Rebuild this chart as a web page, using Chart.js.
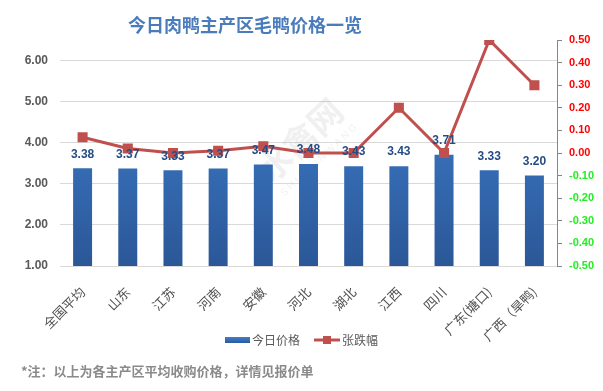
<!DOCTYPE html>
<html>
<head>
<meta charset="utf-8">
<script src="https://cdn.jsdelivr.net/npm/chart.js@4"></script>
<style>
  html, body { margin: 0; padding: 0; background: #fff; }
  #wrap { width: 603px; height: 391px; }
</style>
</head>
<body>
<div id="wrap"><canvas id="mainChart" width="603" height="391"></canvas></div>
<script>
// chart data
const regions = ['全国平均', '山东', '江苏', '河南', '安徽', '河北', '湖北', '江西', '四川', '广东(塘口)', '广西（旱鸭)'];
const todayPrice = [3.38, 3.37, 3.33, 3.37, 3.47, 3.48, 3.43, 3.43, 3.71, 3.33, 3.20];
const priceChange = [0.07, 0.02, 0.00, 0.01, 0.03, 0.00, 0.00, 0.20, 0.00, 0.50, 0.30];
const seriesNames = ['今日价格', '张跌幅'];
const titleText = '今日肉鸭主产区毛鸭价格一览';
const noteText = '*注：以上为各主产区平均收购价格，详情见报价单';

const FONT = '"Liberation Sans", "Noto Sans CJK SC", sans-serif';
Chart.defaults.font.family = FONT;

// title, legend, watermark, footnote and bar labels
const decorations = {
    id: 'decorations',
    beforeDatasetsDraw(chart) {
        const c = chart.ctx;
        c.save();
        c.globalAlpha = 0.13;
        c.translate(300, 140);
        c.rotate(-0.75);
        c.fillStyle = '#888';
        c.font = 'bold 34px "Noto Sans CJK SC"';
        c.textAlign = 'center';
        c.textBaseline = 'middle';
        c.fillText('水禽网', 0, 0);
        c.font = '10px ' + FONT;
        c.fillText('S H U I Q I N W A N G', 0, 28);
        c.restore();
    },
    afterDraw(chart) {
        const c = chart.ctx;
        c.save();
        // title
        c.font = 'bold 18px "Noto Sans CJK SC"';
        c.fillStyle = '#4a7cbc';
        c.textAlign = 'center';
        c.textBaseline = 'middle';
        c.fillText(titleText, 245, 25);

        // bar value labels
        const meta = chart.getDatasetMeta(1);
        c.font = 'bold 12px ' + FONT;
        c.fillStyle = '#264c86';
        meta.data.forEach((bar, i) => {
            c.fillText(todayPrice[i].toFixed(2), bar.x, bar.y - 14);
        });

        // legend
        c.textAlign = 'left';
        c.font = '12px "Noto Sans CJK SC"';
        const ly = 340;
        const g = c.createLinearGradient(0, ly - 3, 0, ly + 3);
        g.addColorStop(0, '#3f7fcf');
        g.addColorStop(1, '#2c5a9c');
        c.fillStyle = g;
        c.fillRect(225, ly - 3, 25, 6);
        c.fillStyle = '#595959';
        c.fillText(seriesNames[0], 252, ly);
        c.strokeStyle = '#c0504d';
        c.lineWidth = 3;
        c.beginPath();
        c.moveTo(314, ly);
        c.lineTo(340, ly);
        c.stroke();
        c.fillStyle = '#c0504d';
        c.fillRect(323, ly - 4, 8, 8);
        c.fillStyle = '#595959';
        c.fillText(seriesNames[1], 342, ly);

        // footnote
        c.font = 'bold 13px "Noto Sans CJK SC"';
        c.fillStyle = '#8a8a8a';
        c.fillText(noteText, 21, 371);
        c.restore();
    }
};

const ctx = document.getElementById('mainChart').getContext('2d');

new Chart(ctx, {
    data: {
        labels: regions,
        datasets: [{
            type: 'line',
            label: seriesNames[1],
            data: priceChange,
            yAxisID: 'y1',
            order: 1,
            borderColor: '#c0504d',
            backgroundColor: '#c0504d',
            borderWidth: 3,
            tension: 0,
            pointStyle: 'rect',
            pointRadius: 5,
            pointHoverRadius: 5
        }, {
            type: 'bar',
            label: seriesNames[0],
            data: todayPrice,
            yAxisID: 'y',
            order: 2,
            barPercentage: 0.42,
            categoryPercentage: 1,
            backgroundColor: (context) => {
                const area = context.chart.chartArea;
                if (!area) return '#3a74c2';
                const g = context.chart.ctx.createLinearGradient(0, area.top, 0, area.bottom);
                g.addColorStop(0, '#4185d6');
                g.addColorStop(1, '#2b5797');
                return g;
            }
        }]
    },
    options: {
        responsive: false,
        animation: false,
        layout: {
            padding: { top: 40, left: 0, right: 0, bottom: 0 }
        },
        plugins: {
            legend: { display: false },
            title: { display: false },
            tooltip: { enabled: false }
        },
        scales: {
            x: {
                grid: { display: false, drawTicks: false },
                border: { display: false },
                afterFit: (scale) => { scale.height = 125; },
                ticks: {
                    autoSkip: false,
                    maxRotation: 45,
                    minRotation: 45,
                    padding: 18,
                    color: '#505050',
                    font: { size: 13, family: '"Noto Sans CJK SC"' }
                }
            },
            y: {
                position: 'left',
                min: 1,
                max: 6.5,
                afterFit: (scale) => { scale.width = 60; },
                afterBuildTicks: (scale) => {
                    scale.ticks = scale.ticks.filter(t => t.value <= 6);
                },
                grid: { color: '#d9d9d9', drawTicks: false },
                border: { display: false },
                ticks: {
                    stepSize: 1,
                    padding: 12,
                    color: '#595959',
                    font: { size: 12, weight: 'bold' },
                    callback: (value) => Number(value).toFixed(2)
                }
            },
            y1: {
                position: 'right',
                min: -0.5,
                max: 0.5,
                afterFit: (scale) => { scale.width = 46; },
                grid: {
                    drawOnChartArea: false,
                    drawTicks: true,
                    tickLength: 5,
                    color: '#868686'
                },
                border: { display: true, color: '#868686', width: 1 },
                ticks: {
                    stepSize: 0.1,
                    padding: 7,
                    font: { size: 11, weight: 'bold' },
                    color: (c) => (c.tick && c.tick.value < -1e-9 ? '#22ee22' : '#ff0000'),
                    callback: (value) => {
                        const v = Math.round(value * 100) / 100;
                        return (Math.abs(v) < 1e-9 ? 0 : v).toFixed(2);
                    }
                }
            }
        }
    },
    plugins: [decorations]
});
</script>
</body>
</html>
